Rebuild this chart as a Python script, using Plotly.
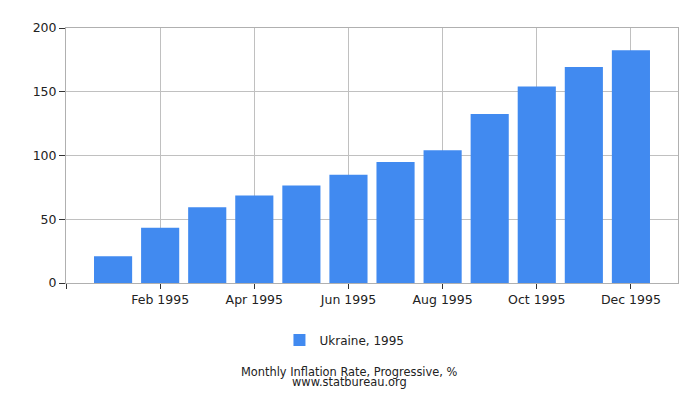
import plotly.graph_objects as go

months = ["Jan 1995", "Feb 1995", "Mar 1995", "Apr 1995", "May 1995", "Jun 1995",
          "Jul 1995", "Aug 1995", "Sep 1995", "Oct 1995", "Nov 1995", "Dec 1995"]
values = [21.0, 43.3, 59.5, 68.7, 76.4, 84.9, 94.9, 104.1, 132.6, 154.1, 169.5, 182.6]
series_name = "Ukraine, 1995"
tick_labels = ["", "Feb 1995", "Apr 1995", "Jun 1995", "Aug 1995", "Oct 1995", "Dec 1995"]

x_idx = list(range(len(months)))
tick_vals = [-1] + [i for i in x_idx if i % 2 == 1]

font = "DejaVu Sans, sans-serif"

fig = go.Figure()
fig.add_trace(go.Bar(
    x=x_idx, y=values, name=series_name,
    marker=dict(color="#418AF0", line=dict(width=0)),
    hovertext=months,
))

fig.update_layout(
    width=700, height=400,
    margin=dict(l=58, r=30, t=14, b=125),
    paper_bgcolor="white", plot_bgcolor="white",
    bargap=0.19,
    font=dict(family=font, size=13, color="#222"),
    showlegend=True,
    legend=dict(orientation="h", x=0.455, xanchor="center", yref="container",
                y=0.17, yanchor="middle", font=dict(size=12, color="#222")),
    xaxis=dict(range=[-1, 12], tickmode="array", tickvals=tick_vals, ticktext=tick_labels,
               showgrid=True, gridcolor="#c0c0c0", gridwidth=1,
               showline=True, linecolor="#b0b0b0", linewidth=1, mirror=True,
               ticks="outside", ticklen=5, tickcolor="#333", zeroline=False,
               tickfont=dict(size=12.5)),
    yaxis=dict(range=[0, 200], tickmode="array", tickvals=[0, 50, 100, 150, 200],
               showgrid=True, gridcolor="#c0c0c0", gridwidth=1,
               showline=True, linecolor="#b0b0b0", linewidth=1, mirror=True,
               ticks="outside", ticklen=6, tickcolor="#333", zeroline=False,
               tickfont=dict(size=12.5)),
    annotations=[
        dict(text="Monthly Inflation Rate, Progressive, %", x=0.464, xref="paper",
             y=-0.348, yref="paper", showarrow=False, font=dict(size=11.4, color="#222"),
             xanchor="center", yanchor="middle"),
        dict(text="www.statbureau.org", x=0.464, xref="paper",
             y=-0.3865, yref="paper", showarrow=False, font=dict(size=11.4, color="#222"),
             xanchor="center", yanchor="middle"),
    ],
)

fig.write_html("out.html")
